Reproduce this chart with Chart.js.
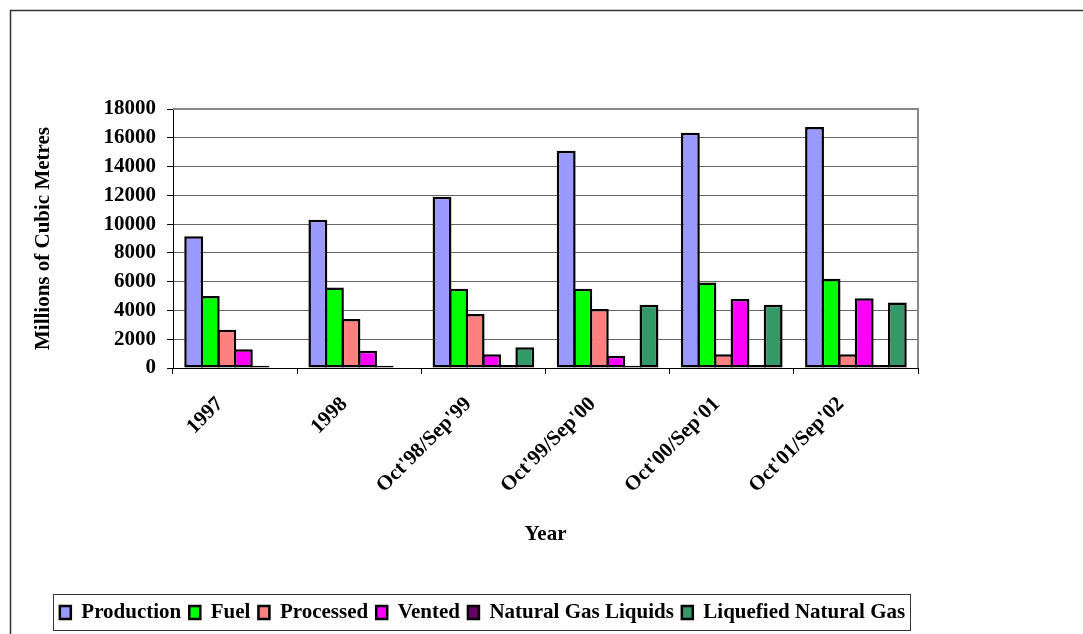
<!DOCTYPE html>
<html>
<head>
<meta charset="utf-8">
<script src="https://cdn.jsdelivr.net/npm/chart.js@4/dist/chart.umd.min.js"></script>
<style>
  html, body { margin: 0; padding: 0; background: #fff; }
  canvas { display: block; }
</style>
</head>
<body>
<canvas id="gas" width="1083" height="634"></canvas>
<script>
// Gas disposition by year, millions of cubic metres
const years = ["1997", "1998", "Oct'98/Sep'99", "Oct'99/Sep'00", "Oct'00/Sep'01", "Oct'01/Sep'02"]
const production = [9150, 10300, 11900, 15100, 16350, 16750]
const fuel = [5000, 5600, 5500, 5500, 5950, 6200]
const processed = [2650, 3400, 3750, 4100, 950, 950]
const vented = [1300, 1200, 950, 850, 4800, 4850]
const gasLiquids = [150, 150, 200, 150, 200, 200]
const liquefied = [0, 0, 1450, 4400, 4400, 4550]
const yMax = 18000
const yStep = 2000

const serif = "'Liberation Serif', 'Times New Roman', serif"

const series = [
  { label: "Production", data: production, color: "#9999ff" },
  { label: "Fuel", data: fuel, color: "#00ff00" },
  { label: "Processed", data: processed, color: "#ff8080" },
  { label: "Vented", data: vented, color: "#ff00ff" },
  { label: "Natural Gas Liquids", data: gasLiquids, color: "#660066" },
  { label: "Liquefied Natural Gas", data: liquefied, color: "#339966" }
]

// outer frame, plot border and the boxed legend
const frames = {
  id: "frames",
  beforeDraw(chart) {
    const ctx = chart.ctx
    ctx.save()
    ctx.strokeStyle = "#333"
    ctx.lineWidth = 1.5
    ctx.strokeRect(10.5, 10.5, chart.width + 20, chart.height + 20)
    ctx.restore()
  },
  afterDatasetsDraw(chart) {
    const { ctx, chartArea: a } = chart
    ctx.save()
    ctx.strokeStyle = "#888"
    ctx.lineWidth = 2
    ctx.beginPath()
    ctx.moveTo(a.left, a.top)
    ctx.lineTo(a.right, a.top)
    ctx.lineTo(a.right, a.bottom)
    ctx.stroke()
    ctx.restore()
  },
  afterDraw(chart) {
    const boxes = chart.legend.legendHitBoxes
    if (!boxes || !boxes.length) return
    const left = Math.min(...boxes.map(b => b.left))
    const right = Math.max(...boxes.map(b => b.left + b.width))
    const top = Math.min(...boxes.map(b => b.top))
    const bottom = Math.max(...boxes.map(b => b.top + b.height))
    const ctx = chart.ctx
    ctx.save()
    ctx.strokeStyle = "#333"
    ctx.lineWidth = 1
    ctx.strokeRect(Math.round(left - 7) + 0.5, Math.round(top - 8) + 0.5, Math.round(right - left + 12), Math.round(bottom - top + 15))
    ctx.restore()
  }
}

new Chart(document.getElementById("gas"), {
  type: "bar",
  data: {
    labels: years,
    datasets: series.map(s => ({
      label: s.label,
      data: s.data,
      backgroundColor: s.color,
      borderColor: "#000",
      borderWidth: 2.5,
      borderSkipped: false,
      categoryPercentage: 0.8,
      barPercentage: 1.14
    }))
  },
  options: {
    responsive: false,
    animation: false,
    layout: { padding: { left: 47, right: 165, top: 109, bottom: 1 } },
    plugins: {
      legend: {
        position: "bottom",
        labels: {
          color: "#000",
          font: { family: serif, size: 21, weight: "bold", lineHeight: 1 },
          boxWidth: 11,
          boxHeight: 13,
          padding: 8
        }
      },
      tooltip: { enabled: false }
    },
    scales: {
      x: {
        grid: {
          offset: true,
          drawOnChartArea: false,
          drawTicks: true,
          tickLength: 6,
          tickColor: "#000"
        },
        border: { color: "#000", width: 1 },
        ticks: {
          color: "#000",
          font: { family: serif, size: 21, weight: "bold" },
          minRotation: 45,
          maxRotation: 45,
          autoSkip: false,
          padding: 18,
          labelOffset: -15
        },
        title: {
          display: true,
          text: "Year",
          color: "#000",
          font: { family: serif, size: 21, weight: "bold", lineHeight: 1 },
          padding: { top: 0, bottom: 49 }
        },
        afterFit(scale) { scale.height = 226 }
      },
      y: {
        min: 0,
        max: yMax,
        grid: {
          color: "#666",
          lineWidth: 1,
          tickLength: 6,
          tickColor: "#000"
        },
        border: { color: "#000", width: 1 },
        ticks: {
          stepSize: yStep,
          autoSkip: false,
          color: "#000",
          font: { family: serif, size: 21, weight: "bold" },
          padding: 11,
          callback: v => String(v)
        },
        title: {
          display: true,
          text: "Millions of Cubic Metres",
          color: "#000",
          font: { family: serif, size: 21, weight: "bold", lineHeight: 1 },
          padding: { top: -14, bottom: 0 }
        },
        afterFit(scale) { scale.width = 126 }
      }
    }
  },
  plugins: [frames]
})
</script>
</body>
</html>
